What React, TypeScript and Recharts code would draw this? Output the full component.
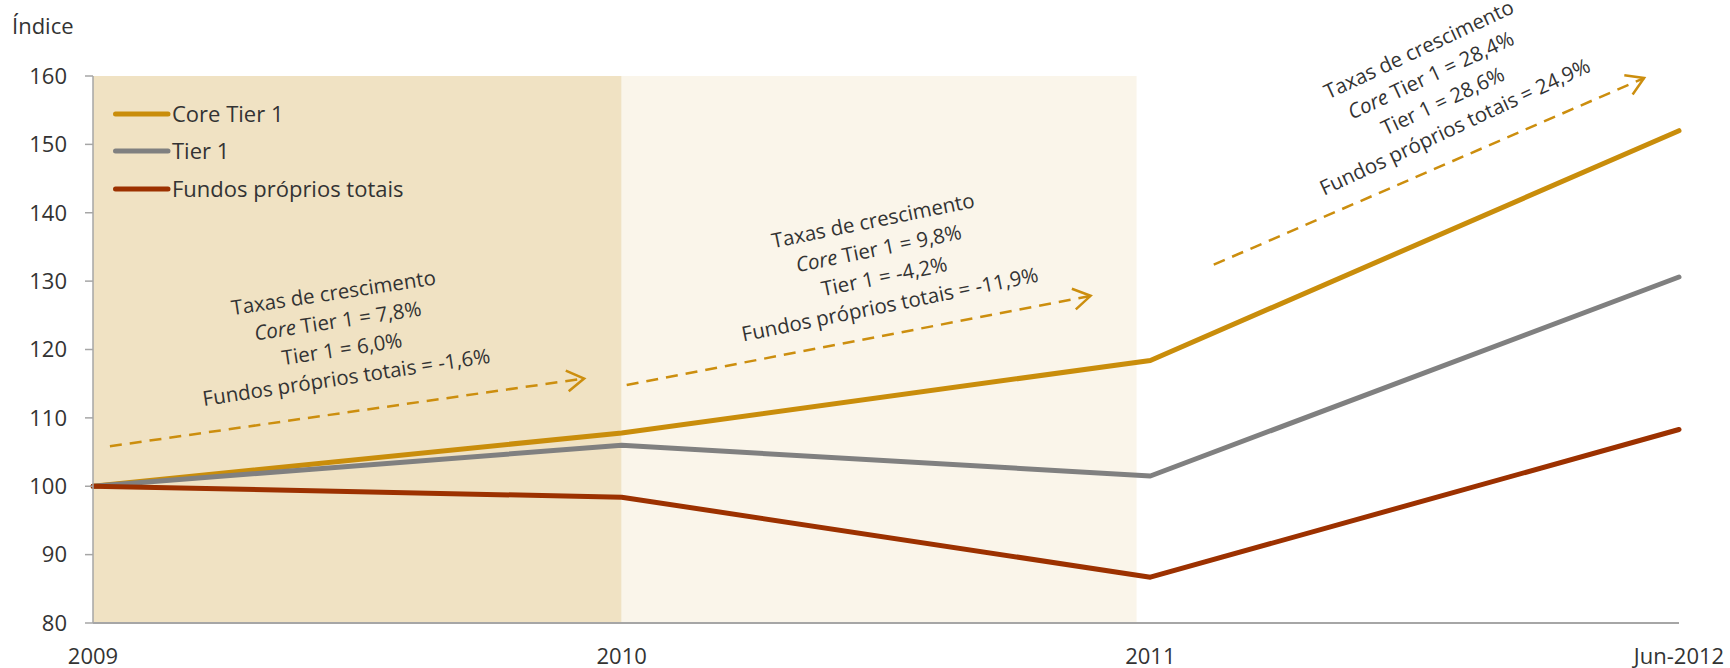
import React from 'react';
import { LineChart, Line, XAxis, YAxis, ReferenceArea, ReferenceLine, ReferenceDot, Legend } from 'recharts';

const categories = ['2009', '2010', '2011', 'Jun-2012'];
const coreTier1 = [100, 107.8, 118.4, 152.0];
const tier1 = [100, 106.0, 101.5, 130.6];
const fundosProprios = [100, 98.4, 86.7, 108.3];
const yTicks = [80, 90, 100, 110, 120, 130, 140, 150, 160];

const seriesNames = ['Core Tier 1', 'Tier 1', 'Fundos próprios totais'];
const seriesColors = ['#C98D0B', '#808080', '#9C3100'];

// annotation anchors in data coordinates (x = category index, y = index value)
const arrows = [
  { x1: 0.032, y1: 105.85, x2: 0.929, y2: 115.76 },
  { x1: 1.0095, y1: 114.8, x2: 1.887, y2: 127.85 },
  { x1: 2.12, y1: 132.4, x2: 2.934, y2: 159.7 },
];
const notes = [
  { x: 0.467, y: 122.1, angle: 8.6, lines: ['Taxas de crescimento', 'Core|Tier 1 = 7,8%', 'Tier 1 = 6,0%', 'Fundos próprios totais = -1,6%'] },
  { x: 1.4915, y: 132.7, angle: 11.5, lines: ['Taxas de crescimento', 'Core|Tier 1 = 9,8%', 'Tier 1 = -4,2%', 'Fundos próprios totais = -11,9%'] },
  { x: 2.542, y: 158.2, angle: 25.0, lines: ['Taxas de crescimento', 'Core|Tier 1 = 28,4%', 'Tier 1 = 28,6%', 'Fundos próprios totais = 24,9%'] },
];

const data = categories.map((c, i) => ({
  x: i,
  core: coreTier1[i],
  tier1: tier1[i],
  fundos: fundosProprios[i],
}));

const FONT = '"Open Sans", sans-serif';
const TEXT = '#333333';
const AXIS = '#A6A6A6';
const ARROW = '#CC8E0E';

const ArrowShape = (props: any) => {
  const { x1, y1, x2, y2 } = props;
  if ([x1, y1, x2, y2].some((v) => typeof v !== 'number' || isNaN(v))) return null;
  const ang = Math.atan2(y2 - y1, x2 - x1);
  const L = 20;
  const w = 0.55;
  const a = [x2 - L * Math.cos(ang - w), y2 - L * Math.sin(ang - w)];
  const b = [x2 - L * Math.cos(ang + w), y2 - L * Math.sin(ang + w)];
  return (
    <g>
      <line x1={x1} y1={y1} x2={x2} y2={y2} stroke={ARROW} strokeWidth={2.5} strokeDasharray="12 8" />
      <polyline points={`${a[0]},${a[1]} ${x2},${y2} ${b[0]},${b[1]}`} fill="none" stroke={ARROW} strokeWidth={2.5} />
    </g>
  );
};

const makeNoteShape = (note: any) => (props: any) => {
  const { cx, cy } = props;
  if (typeof cx !== 'number' || typeof cy !== 'number') return null;
  const lh = 28.5;
  return (
    <text
      transform={`rotate(${-note.angle} ${cx} ${cy})`}
      textAnchor="middle"
      fontFamily={FONT}
      fontSize={20.5}
      fill={TEXT}
    >
      {note.lines.map((ln: string, i: number) => {
        const y = cy + (i - 1.5) * lh + 7;
        if (ln.includes('|')) {
          const [it, rest] = ln.split('|');
          return (
            <tspan key={i} x={cx} y={y}>
              <tspan fontStyle="italic">{it}</tspan> {rest}
            </tspan>
          );
        }
        return (
          <tspan key={i} x={cx} y={y}>
            {ln}
          </tspan>
        );
      })}
    </text>
  );
};

const LegendContent = () => (
  <div style={{ fontFamily: FONT, fontSize: 22, color: TEXT }}>
    {seriesNames.map((n, i) => (
      <div key={n} style={{ display: 'flex', alignItems: 'center', height: 37.6 }}>
        <svg width={59} height={10} style={{ display: 'block' }}>
          <line x1={2.5} y1={5} x2={55} y2={5} stroke={seriesColors[i]} strokeWidth={5} strokeLinecap="round" />
        </svg>
        <span style={{ whiteSpace: 'nowrap', lineHeight: '37.6px' }}>{n}</span>
      </div>
    ))}
  </div>
);

export default function App() {
  return (
    <div style={{ position: 'absolute', left: 0, top: 0, width: 1730, height: 668, background: '#fff' }}>
      <LineChart width={1730} height={668} data={data} margin={{ top: 76, right: 51, bottom: 0, left: 0 }}>
        <ReferenceArea x1={0} x2={1} y1={80} y2={160} fill="#F0E2C3" fillOpacity={1} stroke="none" />
        <ReferenceArea x1={1} x2={1.974} y1={80} y2={160} fill="#FAF5EA" fillOpacity={1} stroke="none" />
        <XAxis
          dataKey="x"
          type="number"
          domain={[0, 3]}
          ticks={[0, 1, 2, 3]}
          tickFormatter={(v: number) => categories[v]}
          height={45}
          tickLine={false}
          tickSize={0}
          tickMargin={25}
          axisLine={{ stroke: AXIS, strokeWidth: 2 }}
          tick={{ fill: TEXT, fontSize: 22, fontFamily: FONT }}
          interval={0}
        />
        <YAxis
          domain={[80, 160]}
          ticks={yTicks}
          width={93}
          tickSize={8}
          tickMargin={18}
          axisLine={{ stroke: AXIS, strokeWidth: 1.5 }}
          tickLine={{ stroke: AXIS, strokeWidth: 1.5 }}
          tick={{ fill: TEXT, fontSize: 22, fontFamily: FONT }}
          interval={0}
          label={{
            content: (p: any) => {
              const vb = p.viewBox || { x: 0, y: 76 };
              return (
                <text x={vb.x + 12} y={vb.y - 42} fontFamily={FONT} fontSize={22} fill={TEXT}>
                  Índice
                </text>
              );
            },
          }}
        />
        {arrows.map((a, i) => (
          <ReferenceLine
            key={`arr${i}`}
            segment={[
              { x: a.x1, y: a.y1 },
              { x: a.x2, y: a.y2 },
            ]}
            shape={ArrowShape}
            ifOverflow="visible"
          />
        ))}
        {notes.map((n, i) => (
          <ReferenceDot key={`note${i}`} x={n.x} y={n.y} r={1} shape={makeNoteShape(n)} ifOverflow="visible" />
        ))}
        <Line type="linear" dataKey="core" name={seriesNames[0]} stroke={seriesColors[0]} strokeWidth={5} dot={false} strokeLinecap="round" strokeLinejoin="round" isAnimationActive={false} />
        <Line type="linear" dataKey="tier1" name={seriesNames[1]} stroke={seriesColors[1]} strokeWidth={5} dot={false} strokeLinecap="round" strokeLinejoin="round" isAnimationActive={false} />
        <Line type="linear" dataKey="fundos" name={seriesNames[2]} stroke={seriesColors[2]} strokeWidth={5} dot={false} strokeLinecap="round" strokeLinejoin="round" isAnimationActive={false} />
        <Legend
          layout="horizontal"
          verticalAlign="middle"
          align="center"
          content={LegendContent}
          wrapperStyle={{ position: 'absolute', left: 113, top: 94.8, width: 'auto', height: 'auto' }}
        />
      </LineChart>
    </div>
  );
}
